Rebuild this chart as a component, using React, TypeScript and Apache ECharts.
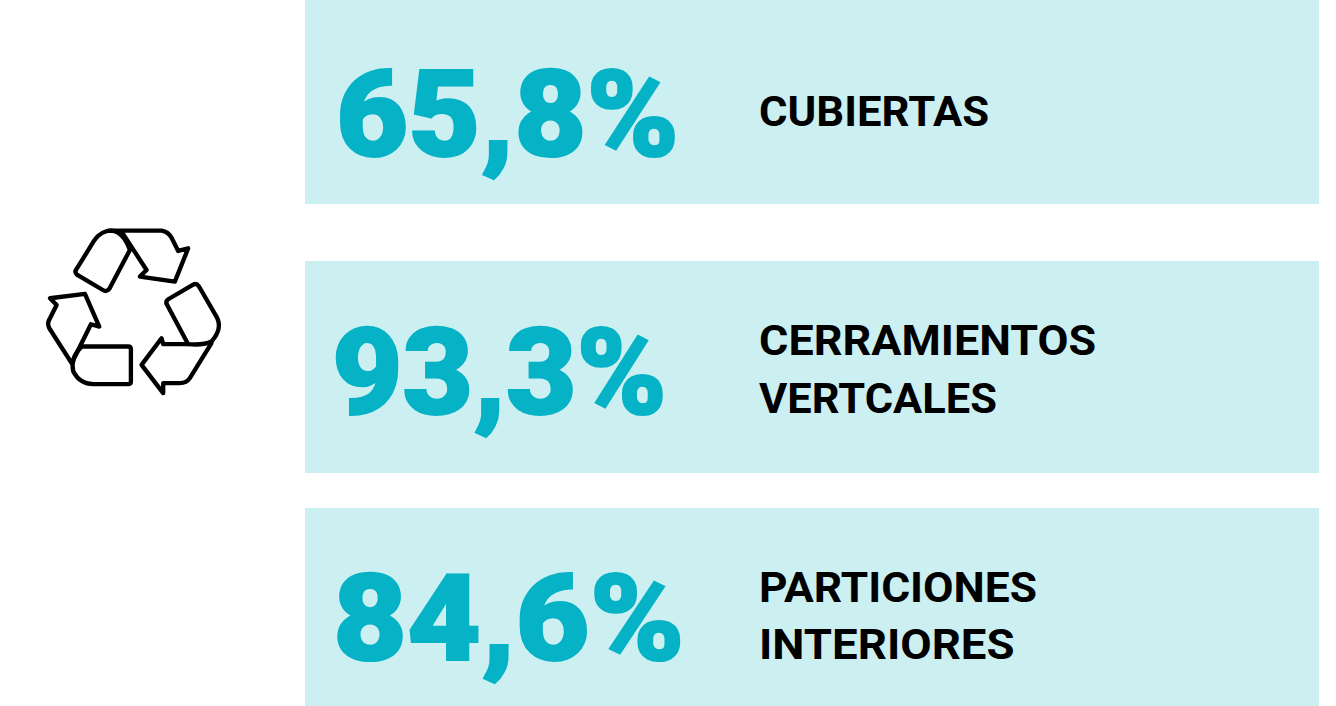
import React, { useEffect, useRef } from "react";
import * as echarts from "echarts";

const values = ["65,8%", "93,3%", "84,6%"];
const labels = [["CUBIERTAS"], ["CERRAMIENTOS", "VERTCALES"], ["PARTICIONES", "INTERIORES"]];
const panelTops = [0, 261, 508];
const panelBottoms = [204, 473, 706];
const valueBottoms = [175, 433, 679];
const valueLefts = [336, 332, 333];
const valueStretch = [1.04, 1.015, 1.065];
const labelTops = [[90], [319, 377], [566, 623]];
const labelStretch = [[1.015], [1.045, 1.01], [1.03, 1.06]];

const iconPaths = [
  "M140 162 L192 78 Q212 47 245 47 Q280 50 300 105 L238 222 Q230 232 220 226 L142 180 Q132 172 140 162 Z",
  "M235 47 L395 47 Q415 50 425 68 L445 108 L475 100 L435 200 L330 185 L350 165 L275 50",
  "M412 270 Q405 260 415 253 L490 209 Q500 204 507 214 L560 305 Q580 340 545 380 Q520 392 475 388 Z",
  "M545 385 L480 490 Q470 505 450 505 L400 505 L400 535 L335 450 L395 370 L400 388 L475 388",
  "M155 395 L295 395 Q303 395 303 403 L303 500 Q303 508 295 508 L190 508 Q150 508 130 470 Q120 430 155 395 Z",
  "M125 445 L58 340 Q50 325 60 310 L80 270 L60 250 L165 237 L208 335 L183 328 L125 445",
];

iconPaths.forEach((d, i) => {
  echarts.graphic.registerShape("recycle" + i, echarts.graphic.extendPath(d as any, {}) as any);
});

const BLUE = "#05b2c6";
const PANEL = "#cceff2";

export default function App() {
  const ref = useRef<HTMLDivElement>(null);
  useEffect(() => {
    const chart = echarts.init(ref.current!, null, { renderer: "svg" });
    const elements: any[] = [];
    panelTops.forEach((top, i) => {
      elements.push({
        type: "rect",
        shape: { x: 305, y: top, width: 1014, height: panelBottoms[i] - top },
        style: { fill: PANEL },
      });
      elements.push({
        type: "text",
        x: valueLefts[i],
        y: valueBottoms[i],
        scaleX: valueStretch[i],
        style: {
          text: values[i],
          fill: BLUE,
          stroke: BLUE,
          lineWidth: 2,
          font: "900 120px Roboto",
          verticalAlign: "bottom",
        },
      });
      labels[i].forEach((t, j) => {
        elements.push({
          type: "text",
          x: 759,
          y: labelTops[i][j],
          scaleX: labelStretch[i][j],
          style: {
            text: t,
            fill: "#000",
            font: "700 43px Roboto",
            verticalAlign: "top",
          },
        });
      });
    });
    iconPaths.forEach((_, i) => {
      elements.push({
        type: "recycle" + i,
        x: 30,
        y: 215,
        scaleX: 1 / 3,
        scaleY: 1 / 3,
        style: { fill: "none", stroke: "#000", lineWidth: 13, lineJoin: "round", lineCap: "round" },
      });
    });
    chart.setOption({ animation: false, graphic: { elements } });
    return () => chart.dispose();
  }, []);
  return <div ref={ref} style={{ position: "fixed", left: 0, top: 0, width: 1336, height: 706, background: "#fff" }} />;
}
